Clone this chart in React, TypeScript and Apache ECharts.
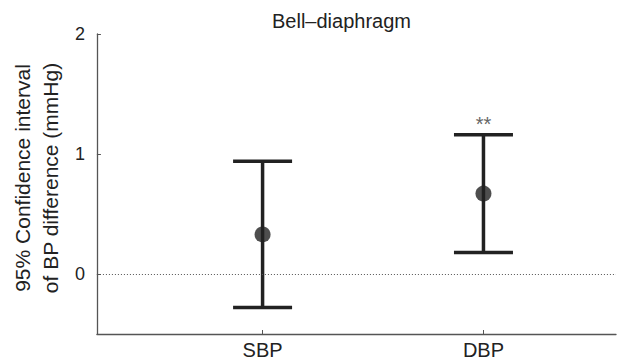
import React, { useEffect, useRef } from "react";
import * as echarts from "echarts";

const categories = ["SBP", "DBP"];
const xPositions = [1, 2];
const means = [0.33, 0.67];
const lowerCI = [-0.28, 0.18];
const upperCI = [0.94, 1.16];
const significance = ["", "**"];
const yTicks = [0, 1, 2];
const titleText = "Bell\u2013diaphragm";
const yAxisName = "95% Confidence interval\nof BP difference (mmHg)";

const FONT = "'Liberation Sans', Arial, Helvetica, sans-serif";
const INK = "#222222";
const AXIS = "#555555";

export default function App() {
  const ref = useRef<HTMLDivElement>(null);

  useEffect(() => {
    document.body.style.margin = "0";
    if (!ref.current) return;
    const chart = echarts.init(ref.current, undefined, { renderer: "svg" });

    const errData = xPositions.map((x, i) => [x, lowerCI[i], upperCI[i], i]);
    const meanData = xPositions.map((x, i) => [x, means[i]]);

    chart.setOption({
      animation: false,
      backgroundColor: "#ffffff",
      title: {
        text: titleText,
        left: 267,
        top: 6,
        textStyle: { fontFamily: FONT, fontSize: 20, fontWeight: "normal", color: INK },
      },
      grid: { left: 94, right: 6, top: 34, bottom: 28, containLabel: false },
      xAxis: {
        type: "value",
        min: 0.25,
        max: 2.6,
        splitLine: { show: false },
        axisLine: { show: true, onZero: false, lineStyle: { color: AXIS, width: 1.3 } },
        axisTick: { show: true, inside: true, length: 4, customValues: xPositions, lineStyle: { color: AXIS } },
        axisLabel: {
          customValues: xPositions,
          formatter: (v: number) => {
            const idx = xPositions.indexOf(v);
            return idx >= 0 ? categories[idx] : "";
          },
          fontFamily: FONT,
          fontSize: 20,
          color: INK,
          margin: 6,
        },
      },
      yAxis: {
        type: "value",
        min: -0.5,
        max: 2,
        splitLine: { show: false },
        axisLine: { show: true, onZero: false, lineStyle: { color: AXIS, width: 1.3 } },
        axisTick: { show: true, inside: true, length: 4, customValues: yTicks, lineStyle: { color: AXIS } },
        axisLabel: {
          customValues: yTicks,
          fontFamily: FONT,
          fontSize: 18,
          color: INK,
          margin: 12,
        },
        name: yAxisName,
        nameLocation: "middle",
        nameGap: 32,
        nameTextStyle: {
          fontFamily: FONT,
          fontSize: 21,
          color: INK,
          lineHeight: 28,
          padding: [0, 0, 0, 12],
        },
      },
      series: [
        {
          type: "custom",
          data: errData,
          z: 3,
          renderItem: (params: any, api: any) => {
            const x = api.value(0);
            const lo = api.value(1);
            const hi = api.value(2);
            const idx = api.value(3);
            const pLo = api.coord([x, lo]);
            const pHi = api.coord([x, hi]);
            const half = 29.5;
            const style = { stroke: INK, lineWidth: 3.5 };
            const children: any[] = [
              { type: "line", shape: { x1: pLo[0], y1: pLo[1], x2: pHi[0], y2: pHi[1] }, style },
              { type: "line", shape: { x1: pHi[0] - half, y1: pHi[1], x2: pHi[0] + half, y2: pHi[1] }, style },
              { type: "line", shape: { x1: pLo[0] - half, y1: pLo[1], x2: pLo[0] + half, y2: pLo[1] }, style },
            ];
            const sig = significance[idx];
            if (sig) {
              children.push({
                type: "text",
                x: pHi[0],
                y: pHi[1] - 11,
                style: {
                  text: sig,
                  fill: "#666666",
                  font: `20px ${FONT}`,
                  align: "center",
                  verticalAlign: "middle",
                },
              });
            }
            return { type: "group", children };
          },
        },
        {
          type: "scatter",
          data: meanData,
          symbol: "circle",
          symbolSize: 16,
          z: 4,
          itemStyle: { color: INK },
          markLine: {
            silent: true,
            symbol: ["none", "none"],
            label: { show: false },
            lineStyle: { color: "#555555", type: [1, 2], width: 1 },
            data: [{ yAxis: 0 }],
          },
        },
      ],
    });

    return () => chart.dispose();
  }, []);

  return <div ref={ref} style={{ width: 622, height: 362 }} />;
}
